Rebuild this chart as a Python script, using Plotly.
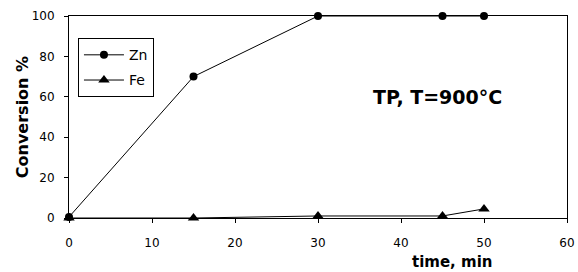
import plotly.graph_objects as go

time_min = [0, 15, 30, 45, 50]
zn_conv = [0.5, 70, 100, 100, 100]
fe_conv = [0, 0, 1, 1, 4.5]
x_ticks = [0, 10, 20, 30, 40, 50, 60]
y_ticks = [0, 20, 40, 60, 80, 100]

FONT = "DejaVu Sans"

fig = go.Figure()
fig.add_trace(go.Scatter(
    x=time_min, y=zn_conv, name="Zn", mode="lines+markers",
    line=dict(color="black", width=1),
    marker=dict(symbol="circle", size=8, color="black"),
    legendgroup="zn", cliponaxis=False))
fig.add_trace(go.Scatter(
    x=time_min, y=fe_conv, name="Fe", mode="lines+markers",
    line=dict(color="black", width=1),
    marker=dict(symbol="triangle-up", size=10, color="black"),
    legendgroup="fe", cliponaxis=False))

axis_common = dict(showgrid=False, zeroline=False, showline=True, linecolor="black",
                   linewidth=1, mirror=True, ticks="outside", ticklen=4, automargin=False,
                   tickcolor="black", tickfont=dict(family=FONT, size=12, color="black"))

fig.update_xaxes(range=[0, 60], tickvals=x_ticks, ticklabelstandoff=10, **axis_common)
fig.update_yaxes(range=[0, 100], tickvals=y_ticks, ticklabelstandoff=7, **axis_common)

fig.update_layout(
    template="none",
    width=578, height=272,
    margin=dict(l=69, r=11, t=16, b=54, pad=0),
    paper_bgcolor="white", plot_bgcolor="white",
    font=dict(family=FONT, color="black"),
    showlegend=True,
    legend=dict(x=0.018, y=0.89, xanchor="left", yanchor="top",
                bordercolor="black", borderwidth=1, bgcolor="white",
                font=dict(family=FONT, size=14, color="black"),
                tracegroupgap=4, itemwidth=40),
    annotations=[
        dict(text="<b>TP, T=900°C</b>", x=0.739, y=0.599, xref="paper", yref="paper",
             xanchor="center", yanchor="middle",
             showarrow=False, font=dict(family=FONT, size=19, color="black")),
        dict(text="<b>time, min</b>", x=0.77, y=-0.22, xref="paper", yref="paper",
             xanchor="center", yanchor="middle",
             showarrow=False, font=dict(family=FONT, size=15, color="black")),
        dict(text="<b>Conversion %</b>", x=-0.094, y=0.5, xref="paper", yref="paper",
             xanchor="center", yanchor="middle",
             showarrow=False, textangle=-90, font=dict(family=FONT, size=16, color="black")),
    ],
)

fig.write_html("out.html", config={"displayModeBar": False},
               post_script="document.body.style.margin='0';document.body.style.overflow='hidden';")
